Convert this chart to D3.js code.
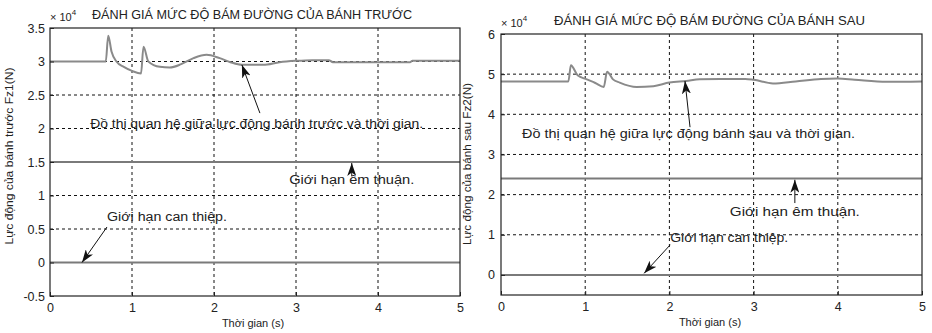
<!DOCTYPE html>
<html><head><meta charset="utf-8">
<script src="https://cdn.jsdelivr.net/npm/d3@7"></script>
<style>
body{margin:0;background:#fff}
svg{display:block}
text{font-family:"Liberation Sans",Arial,sans-serif}
</style></head>
<body><svg id="c" width="932" height="333"></svg>
<script>
// ---------- data (forces in ×10^4 N, time in s) ----------
const timeTicks = [0, 1, 2, 3, 4, 5];
const frontTicks = [-0.5, 0, 0.5, 1, 1.5, 2, 2.5, 3, 3.5];
const rearTicks = [0, 1, 2, 3, 4, 5, 6];

const frontT  = [0, 0.68, 0.71, 0.75, 0.81, 0.90, 1.00, 1.11, 1.14, 1.20, 1.34, 1.46, 1.60, 1.75, 1.91, 2.07, 2.20, 2.34, 2.60, 2.80, 3.00, 3.20, 3.40, 3.45, 3.72, 4.00, 4.39, 4.42, 4.70, 5.00];
const frontFz = [3.0, 3.0, 3.385, 3.15, 3.0, 2.92, 2.86, 2.82, 3.22, 3.0, 2.92, 2.91, 2.96, 3.05, 3.10, 3.05, 2.99, 2.95, 2.95, 2.99, 3.01, 3.02, 3.02, 2.99, 2.99, 2.99, 2.99, 3.01, 3.01, 3.01];

const rearT  = [0, 0.80, 0.83, 0.91, 1.02, 1.12, 1.22, 1.26, 1.33, 1.41, 1.61, 1.81, 2.00, 2.20, 2.36, 2.60, 2.90, 3.00, 3.23, 3.50, 3.80, 4.00, 4.20, 4.58, 5.00];
const rearFz = [4.82, 4.82, 5.22, 4.97, 4.87, 4.78, 4.68, 5.06, 4.87, 4.79, 4.68, 4.70, 4.79, 4.83, 4.87, 4.88, 4.88, 4.86, 4.77, 4.82, 4.88, 4.89, 4.86, 4.81, 4.82];

const frontLimits = [1.5, 0];   // comfort limit, intervention limit
const rearLimits  = [2.4, 0];

const frontTitle = "ĐÁNH GIÁ MỨC ĐỘ BÁM ĐƯỜNG CỦA BÁNH TRƯỚC";
const rearTitle  = "ĐÁNH GIÁ MỨC ĐỘ BÁM ĐƯỜNG CỦA BÁNH SAU";
const frontYLabel = "Lực động của bánh trước Fz1(N)";
const rearYLabel  = "Lực động của bánh sau Fz2(N)";
const xLabel = "Thời gian (s)";

// annotations: text anchor + arrow (tail -> tip) in data coordinates
const frontNotes = [
  {text:"Đồ thị quan hệ giữa lực động bánh trước và thời gian.", tx:0.49, ty:2.08, anchor:"start", len:333, tail:[2.56,2.23], tip:[2.34,2.95]},
  {text:"Giới hạn êm thuận.", tx:3.68, ty:1.23, anchor:"middle", len:125, tail:[3.68,1.29], tip:[3.68,1.485]},
  {text:"Giới hạn can thiệp.", tx:0.695, ty:0.68, anchor:"start", len:120, tail:[0.695,0.53], tip:[0.39,0.0]}
];
const rearNotes = [
  {text:"Đồ thị quan hệ giữa lực động bánh sau và thời gian.", tx:0.25, ty:3.53, anchor:"start", len:333, tail:[2.245,3.68], tip:[2.185,4.83]},
  {text:"Giới hạn êm thuận.", tx:3.49, ty:1.57, anchor:"middle", len:130, tail:[3.49,1.79], tip:[3.49,2.37]},
  {text:"Giới hạn can thiệp.", tx:2.01, ty:0.92, anchor:"start", len:118, tail:[2.01,0.75], tip:[1.70,0.04]}
];

// ---------- drawing ----------
const svg = d3.select("#c");
const defs = svg.append("defs");
defs.append("marker").attr("id","ah").attr("viewBox","0 0 13 9")
  .attr("refX",13).attr("refY",4.5).attr("markerWidth",13).attr("markerHeight",9)
  .attr("markerUnits","userSpaceOnUse").attr("orient","auto")
  .append("path").attr("d","M0,0 L13,4.5 L0,9 L3.5,4.5 Z").attr("fill","#111");

const panels = [
  {x0:50, x1:460, y0:28, y1:296, dom:[-0.5,3.5], ticks:frontTicks, t:frontT, v:frontFz, limits:frontLimits,
   title:frontTitle, titleX:92, titleY:19, titleLen:320, ylab:frontYLabel, ylabX:9, ylabY:156, ylabLen:177,
   notes:frontNotes, xlabX:253, xlabY:327, padY:5, expX:50, expY:21},
  {x0:501, x1:922, y0:34, y1:295, dom:[-0.5,6], ticks:rearTicks, t:rearT, v:rearFz, limits:rearLimits,
   title:rearTitle, titleX:554, titleY:25, titleLen:311, ylab:rearYLabel, ylabX:467, ylabY:164, ylabLen:162,
   notes:rearNotes, xlabX:710, xlabY:326, padY:6, expX:501, expY:27}
];

const fmt = d => (Math.round(d*10)/10).toString();

panels.forEach(p => {
  const x = d3.scaleLinear([0,5],[p.x0,p.x1]);
  const y = d3.scaleLinear(p.dom,[p.y1,p.y0]);
  const g = svg.append("g");

  // grid
  g.selectAll(".gx").data(timeTicks.filter(d=>d>0&&d<5)).join("line")
    .attr("x1",d=>x(d)).attr("x2",d=>x(d)).attr("y1",p.y0).attr("y2",p.y1)
    .attr("stroke","#111").attr("stroke-width",1).attr("stroke-dasharray","3,3");
  g.selectAll(".gy").data(p.ticks.filter(d=>d>p.dom[0]&&d<p.dom[1])).join("line")
    .attr("x1",p.x0).attr("x2",p.x1).attr("y1",d=>y(d)).attr("y2",d=>y(d))
    .attr("stroke","#111").attr("stroke-width",1).attr("stroke-dasharray","3,3");

  // limit lines
  g.selectAll(".lim").data(p.limits).join("line")
    .attr("x1",p.x0).attr("x2",p.x1).attr("y1",d=>y(d)).attr("y2",d=>y(d))
    .attr("stroke","#7a7a7a").attr("stroke-width",2);

  // curve
  const pts = p.t.map((t,i)=>[t,p.v[i]]);
  g.append("path").datum(pts)
    .attr("d", d3.line().x(d=>x(d[0])).y(d=>y(d[1])).curve(d3.curveMonotoneX))
    .attr("fill","none").attr("stroke","#8a8a8a").attr("stroke-width",2);

  // box
  g.append("rect").attr("x",p.x0).attr("y",p.y0).attr("width",p.x1-p.x0).attr("height",p.y1-p.y0)
    .attr("fill","none").attr("stroke","#222").attr("stroke-width",1.2);

  // axes
  const ax = g.append("g").attr("transform",`translate(0,${p.y1})`)
    .call(d3.axisBottom(x).tickValues(timeTicks).tickSizeInner(-4).tickSizeOuter(0).tickPadding(7).tickFormat(d3.format("d")));
  const ay = g.append("g").attr("transform",`translate(${p.x0},0)`)
    .call(d3.axisLeft(y).tickValues(p.ticks).tickSizeInner(-4).tickSizeOuter(0).tickPadding(p.padY).tickFormat(fmt));
  [ax,ay].forEach(a=>{
    a.select(".domain").remove();
    a.selectAll("line").attr("stroke","#222");
    a.selectAll("text").attr("font-size",12.5).attr("fill","#222").attr("font-family","'Liberation Sans',Arial,sans-serif");
  });

  // exponent
  const e = g.append("text").attr("x",p.expX).attr("y",p.expY).attr("font-size",11).attr("fill","#222");
  e.append("tspan").text("× 10");
  e.append("tspan").attr("dy",-6).attr("font-size",8).text("4");

  // title
  g.append("text").attr("x",p.titleX).attr("y",p.titleY).attr("font-size",12)
    .attr("textLength",p.titleLen).attr("lengthAdjust","spacingAndGlyphs").attr("fill","#222").text(p.title);

  // labels
  g.append("text").attr("x",p.xlabX).attr("y",p.xlabY).attr("text-anchor","middle")
    .attr("font-size",11).attr("fill","#222").text(xLabel);
  g.append("text").attr("transform",`translate(${p.ylabX},${p.ylabY}) rotate(-90)`)
    .attr("text-anchor","middle").attr("dy","0.35em").attr("font-size",11)
    .attr("textLength",p.ylabLen).attr("lengthAdjust","spacingAndGlyphs").attr("fill","#222").text(p.ylab);

  // annotations
  p.notes.forEach(n=>{
    g.append("line").attr("x1",x(n.tail[0])).attr("y1",y(n.tail[1]))
      .attr("x2",x(n.tip[0])).attr("y2",y(n.tip[1]))
      .attr("stroke","#111").attr("stroke-width",1).attr("marker-end","url(#ah)");
    g.append("text").attr("x",x(n.tx)).attr("y",y(n.ty)).attr("dy","0.35em")
      .attr("text-anchor",n.anchor).attr("font-size",12.5).attr("fill","#222")
      .attr("textLength",n.len).attr("lengthAdjust","spacingAndGlyphs").text(n.text);
  });
});
</script>
</body></html>
